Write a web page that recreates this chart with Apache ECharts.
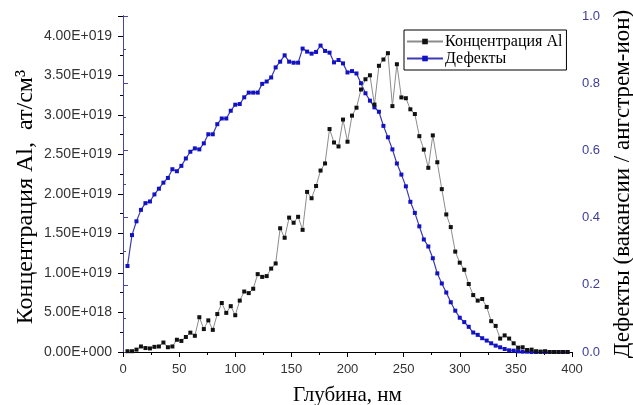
<!DOCTYPE html>
<html>
<head>
<meta charset="utf-8">
<script src="https://cdn.jsdelivr.net/npm/echarts@6/dist/echarts.min.js"></script>
<style>
  html, body { margin: 0; padding: 0; background: #fff; }
  #chart { width: 633px; height: 405px; }
</style>
</head>
<body>
<div id="chart"></div>
<script>
// глубина, нм
var depth = [
  4, 8, 12, 16, 20, 24, 28, 32, 36, 40,
  44, 48, 52, 56, 60, 64, 68, 72, 76, 80,
  84, 88, 92, 96, 100, 104, 108, 112, 116, 120,
  124, 128, 132, 136, 140, 144, 148, 152, 156, 160,
  164, 168, 172, 176, 180, 184, 188, 192, 196, 200,
  204, 208, 212, 216, 220, 224, 228, 232, 236, 240,
  244, 248, 252, 256, 260, 264, 268, 272, 276, 280,
  284, 288, 292, 296, 300, 304, 308, 312, 316, 320,
  324, 328, 332, 336, 340, 344, 348, 352, 356, 360,
  364, 368, 372, 376, 380, 384, 388, 392, 396
]
// концентрация Al, в единицах 1e19 ат/см3
var alConc = [
  0.01, 0.01, 0.03, 0.07, 0.05, 0.045, 0.065, 0.07, 0.12, 0.06,
  0.07, 0.155, 0.14, 0.19, 0.245, 0.205, 0.44, 0.29, 0.40, 0.28,
  0.48, 0.62, 0.495, 0.58, 0.465, 0.65, 0.765, 0.745, 0.80, 0.985,
  0.95, 0.96, 1.055, 1.12, 1.565, 1.445, 1.70, 1.635, 1.71, 1.545,
  2.025, 1.945, 2.10, 2.295, 2.385, 2.82, 2.65, 2.60, 2.94, 2.66,
  2.99, 3.09, 3.32, 3.45, 3.50, 3.13, 3.62, 3.70, 3.78, 3.11,
  3.64, 3.22, 3.21, 3.07, 3.01, 2.73, 2.56, 2.33, 2.74, 2.40,
  2.06, 1.74, 1.58, 1.27, 1.13, 1.04, 0.86, 0.72, 0.65, 0.67,
  0.57, 0.39, 0.33, 0.17, 0.21, 0.17, 0.11, 0.055, 0.06, 0.025,
  0.03, 0.01, 0.005, 0.01, 0, 0, 0, 0, 0
]
// дефекты, вакансии / ангстрем-ион
var defects = [
  0.256, 0.348, 0.389, 0.423, 0.443, 0.448, 0.469, 0.486, 0.504, 0.518,
  0.544, 0.538, 0.554, 0.576, 0.596, 0.606, 0.603, 0.621, 0.648, 0.648,
  0.678, 0.695, 0.695, 0.718, 0.736, 0.738, 0.758, 0.772, 0.772, 0.772,
  0.798, 0.805, 0.817, 0.847, 0.864, 0.883, 0.864, 0.861, 0.861, 0.903,
  0.894, 0.888, 0.893, 0.912, 0.896, 0.891, 0.862, 0.869, 0.859, 0.832,
  0.836, 0.829, 0.800, 0.770, 0.748, 0.728, 0.715, 0.673, 0.639, 0.603,
  0.561, 0.528, 0.493, 0.447, 0.414, 0.374, 0.335, 0.314, 0.279, 0.234,
  0.204, 0.177, 0.148, 0.123, 0.102, 0.089, 0.075, 0.058, 0.051, 0.041,
  0.034, 0.026, 0.019, 0.014, 0.009, 0.005, 0.004, 0.002, 0.001, 0.001,
  0, 0, 0, 0, 0, 0, 0, 0, 0
]

var labelFont = 'Liberation Sans'
var titleFont = 'Liberation Serif'
var blueAxis = '#4646a6'

// 4e19 -> "4.00E+019"
function sciLabel (v) {
  if (v === 0) return '0.00E+000'
  var real = v * 1e19
  var exp = Math.floor(Math.log10(real) + 1e-9)
  var mant = real / Math.pow(10, exp)
  return mant.toFixed(2) + 'E+' + ('000' + exp).slice(-3)
}

var chart = echarts.init(document.getElementById('chart'))
var option = {
  backgroundColor: '#fff',
  animation: false,
  grid: { left: 123, right: 61, top: 16, bottom: 53, containLabel: false, outerBoundsMode: 'none' },
  legend: {
    orient: 'vertical',
    left: 404,
    top: 30,
    padding: [3, 4, 3, 2],
    itemGap: 0,
    itemWidth: 36,
    itemHeight: 7,
    borderColor: '#000',
    borderWidth: 1,
    textStyle: { fontFamily: titleFont, fontSize: 16, color: '#000', lineHeight: 17, padding: [0, 0, 0, -3] },
    data: ['Концентрация Al', 'Дефекты']
  },
  xAxis: [{
    type: 'value',
    min: 0,
    max: 400,
    interval: 50,
    name: 'Глубина, нм',
    nameLocation: 'middle',
    nameGap: 33,
    nameMoveOverlap: false,
    nameTextStyle: { fontFamily: titleFont, fontSize: 21, color: '#000' },
    axisLine: { lineStyle: { color: '#000', width: 1 } },
    axisTick: { length: 5, lineStyle: { color: '#000' } },
    minorTick: { show: true, splitNumber: 2, length: 3, lineStyle: { color: '#000' } },
    axisLabel: { fontFamily: labelFont, fontSize: 13, color: '#333', margin: 11 },
    splitLine: { show: false }
  }, {
    type: 'value',
    position: 'top',
    min: 0,
    max: 400,
    interval: 50,
    axisLine: { lineStyle: { color: '#000', width: 1 } },
    axisTick: { inside: true, length: 5, lineStyle: { color: '#000' } },
    minorTick: { show: true, splitNumber: 2, length: 3, lineStyle: { color: '#000' } },
    axisLabel: { show: false },
    splitLine: { show: false }
  }],
  yAxis: [{
    type: 'value',
    min: 0,
    max: 4.25,
    interval: 0.5,
    name: 'Концентрация Al,  ат/см³',
    nameLocation: 'middle',
    nameRotate: 90,
    nameGap: 85,
    nameMoveOverlap: false,
    nameTextStyle: { fontFamily: titleFont, fontSize: 24, color: '#000', padding: [0, 26, 0, 0] },
    axisLine: { show: true, lineStyle: { color: '#000', width: 1 } },
    axisTick: { length: 5, lineStyle: { color: '#000' } },
    minorTick: { show: true, splitNumber: 2, length: 3, lineStyle: { color: '#000' } },
    axisLabel: { fontFamily: labelFont, fontSize: 14, color: '#333', margin: 11, showMaxLabel: false, formatter: sciLabel },
    splitLine: { show: false }
  }, {
    type: 'value',
    position: 'right',
    min: 0,
    max: 1,
    interval: 0.2,
    name: 'Дефекты (вакансии / ангстрем-ион)',
    nameLocation: 'middle',
    nameRotate: 90,
    nameGap: 39,
    nameMoveOverlap: false,
    nameTextStyle: { fontFamily: titleFont, fontSize: 23, color: '#000' },
    axisLine: { show: true, lineStyle: { color: blueAxis, width: 1 } },
    axisTick: { length: 5, lineStyle: { color: blueAxis } },
    minorTick: { show: true, splitNumber: 2, length: 3, lineStyle: { color: blueAxis } },
    axisLabel: { fontFamily: labelFont, fontSize: 13, color: '#3d3d99', margin: 10, formatter: function (v) { return v.toFixed(1) } },
    splitLine: { show: false }
  }],
  series: [{
    name: 'Концентрация Al',
    type: 'line',
    xAxisIndex: 0,
    yAxisIndex: 0,
    z: 3,
    symbol: 'rect',
    symbolSize: 4,
    itemStyle: { color: '#111' },
    lineStyle: { color: '#8c8c8c', width: 1 },
    data: depth.map(function (d, i) { return [d, alConc[i]] })
  }, {
    name: 'Дефекты',
    type: 'line',
    xAxisIndex: 0,
    yAxisIndex: 1,
    z: 2,
    symbol: 'rect',
    symbolSize: 4,
    itemStyle: { color: '#1212c4' },
    lineStyle: { color: '#3a3ab4', width: 1.2 },
    data: depth.map(function (d, i) { return [d, defects[i]] })
  }]
}
chart.setOption(option)
</script>
</body>
</html>
